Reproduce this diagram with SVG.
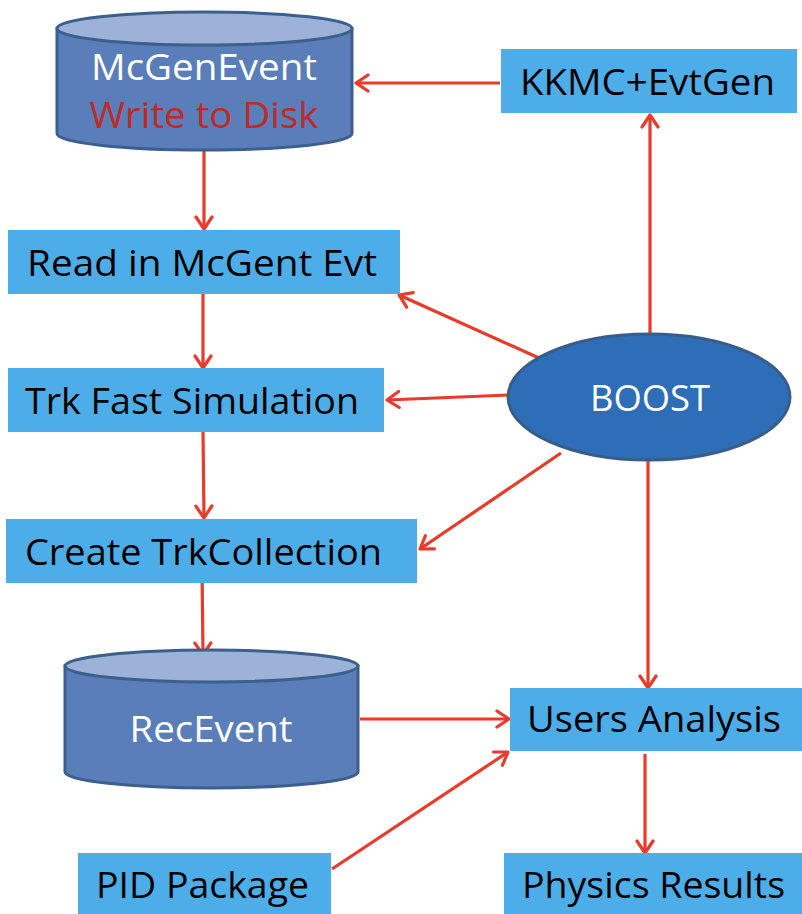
<svg xmlns="http://www.w3.org/2000/svg" width="802" height="914" viewBox="0 0 802 914">
<defs>
<marker id="ah" viewBox="0 0 20 20" refX="17" refY="10" markerWidth="20" markerHeight="20" markerUnits="userSpaceOnUse" orient="auto">
<path d="M5,2 L17,10 L5,18" fill="none" stroke="#EA3A2A" stroke-width="3.2" stroke-linecap="round" stroke-linejoin="round"/>
</marker>
</defs>
<style>
.box{fill:#4DADE8;}
.lbl{font-family:"Open Sans","DejaVu Sans",sans-serif;font-size:36px;fill:#000;}
.wlbl{font-family:"Open Sans","DejaVu Sans",sans-serif;font-size:36px;fill:#fff;}
.cylb{fill:#5A7EB9;stroke:#3C5F8E;stroke-width:3;}
.cylt{fill:#9CB2D6;stroke:#3C5F8E;stroke-width:3;}
.conn{stroke:#EA3A2A;stroke-width:3.2;fill:none;marker-end:url(#ah);}
</style>
<g id="connectors">
<line class="conn" x1="500" y1="83" x2="356" y2="83"/>
<line class="conn" x1="204" y1="150" x2="204" y2="229"/>
<line class="conn" x1="650" y1="334" x2="650" y2="115"/>
<line class="conn" x1="539" y1="358" x2="399" y2="295"/>
<line class="conn" x1="509" y1="395" x2="387" y2="400"/>
<line class="conn" x1="203" y1="294" x2="203" y2="368"/>
<line class="conn" x1="203" y1="432" x2="204" y2="518"/>
<line class="conn" x1="561" y1="453" x2="420" y2="549"/>
<line class="conn" x1="202" y1="567" x2="203" y2="655"/>
<line class="conn" x1="648" y1="460" x2="648" y2="688"/>
<line class="conn" x1="360" y1="719" x2="509" y2="719"/>
<line class="conn" x1="332" y1="869" x2="508" y2="752"/>
<line class="conn" x1="645" y1="754" x2="645" y2="853"/>
</g>
<g id="McGenEvent">
<path class="cylb" d="M57,28.5 L57,133.5 A147.5,16.5 0 0 0 352,133.5 L352,28.5 Z"/>
<ellipse class="cylt" cx="204.5" cy="28.5" rx="147.5" ry="16.5"/>
<text class="wlbl" x="204" y="80" text-anchor="middle" textLength="226" lengthAdjust="spacingAndGlyphs">McGenEvent</text>
<text class="lbl" x="204" y="128" text-anchor="middle" style="fill:#BE2A26" textLength="229" lengthAdjust="spacingAndGlyphs">Write to Disk</text>
</g>
<g id="KKMC">
<rect class="box" x="501" y="49" width="296" height="64"/>
<text class="lbl" x="520" y="95" textLength="255" lengthAdjust="spacingAndGlyphs">KKMC+EvtGen</text>
</g>
<g id="ReadIn">
<rect class="box" x="8" y="230" width="392" height="64"/>
<text class="lbl" x="27" y="276" textLength="350" lengthAdjust="spacingAndGlyphs">Read in McGent Evt</text>
</g>
<g id="TrkFast">
<rect class="box" x="8" y="368" width="376" height="64"/>
<text class="lbl" x="25" y="414" textLength="334" lengthAdjust="spacingAndGlyphs">Trk Fast Simulation</text>
</g>
<g id="CreateTrk">
<rect class="box" x="6" y="519" width="411" height="64"/>
<text class="lbl" x="25" y="565" textLength="357" lengthAdjust="spacingAndGlyphs">Create TrkCollection</text>
</g>
<g id="BOOST">
<ellipse cx="649" cy="397" rx="141" ry="63" fill="#2E6DB8" stroke="#385D8A" stroke-width="3"/>
<text class="wlbl" x="650" y="411" text-anchor="middle" textLength="120" lengthAdjust="spacingAndGlyphs">BOOST</text>
</g>
<g id="RecEvent">
<path class="cylb" d="M65,666 L65,772 A146.5,16 0 0 0 358,772 L358,666 Z"/>
<ellipse class="cylt" cx="211.5" cy="666" rx="146.5" ry="16"/>
<text class="wlbl" x="211" y="742" text-anchor="middle" textLength="163" lengthAdjust="spacingAndGlyphs">RecEvent</text>
</g>
<g id="UsersAnalysis">
<rect class="box" x="510" y="688" width="292" height="63"/>
<text class="lbl" x="527" y="732" textLength="254" lengthAdjust="spacingAndGlyphs">Users Analysis</text>
</g>
<g id="PID">
<rect class="box" x="78" y="853" width="253" height="61"/>
<text class="lbl" x="96" y="898" textLength="213" lengthAdjust="spacingAndGlyphs">PID Package</text>
</g>
<g id="Physics">
<rect class="box" x="504" y="853" width="298" height="61"/>
<text class="lbl" x="522" y="898" textLength="263" lengthAdjust="spacingAndGlyphs">Physics Results</text>
</g>
</svg>
